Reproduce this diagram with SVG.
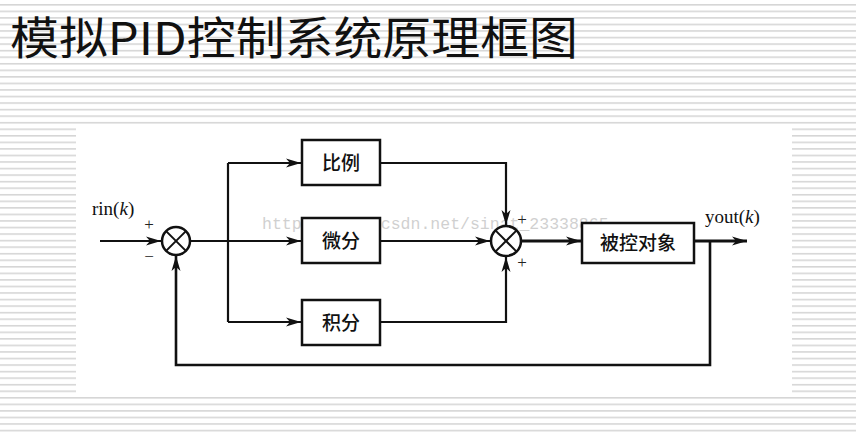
<svg xmlns="http://www.w3.org/2000/svg" width="856" height="432" viewBox="0 0 856 432">
<defs>
<pattern id="stripes" x="0" y="4" width="8" height="6.55" patternUnits="userSpaceOnUse">
<rect x="0" y="0" width="8" height="1.6" fill="#d6d6d6"/>
</pattern>
<marker id="arr" markerUnits="userSpaceOnUse" markerWidth="16" markerHeight="10" refX="15" refY="5" orient="auto">
<path d="M0,0.5 L15,5 L0,9.5 L4,5 z" fill="#111"/>
</marker>
<style>
.ln{fill:none;stroke:#111;stroke-width:2.2}
.bx{fill:#fff;stroke:#111;stroke-width:2.5}
.sum{fill:#fff;stroke:#111;stroke-width:2.5}
.x{stroke:#111;stroke-width:2}
.cn{font-family:"Noto Sans CJK SC","Noto Sans CJK JP",sans-serif;font-size:19px;fill:#111;text-anchor:middle;font-weight:500}
.sg{font-family:"Liberation Serif",serif;font-size:17px;fill:#222;text-anchor:middle}
.lb{font-family:"Liberation Serif",serif;font-size:19px;fill:#111}
</style>
</defs>
<rect width="856" height="432" fill="#fff"/>
<rect width="856" height="432" fill="url(#stripes)"/>
<rect x="76" y="125" width="716" height="272" fill="#fff"/>
<text x="10" y="55" font-family="'Noto Sans CJK SC','Noto Sans CJK JP',sans-serif" font-size="45" fill="#111" textLength="568" lengthAdjust="spacingAndGlyphs">模拟PID控制系统原理框图</text>

<text x="262" y="229" font-family="'Liberation Mono',monospace" font-size="16.5" fill="#999" opacity="0.45">http://blog.csdn.net/sinat_23338865</text>

<g id="connectors">
<path class="ln" d="M100,241 H161" marker-end="url(#arr)"/>
<path class="ln" d="M190,241 H301" marker-end="url(#arr)"/>
<path class="ln" d="M228,163 V322"/>
<path class="ln" d="M228,163 H301" marker-end="url(#arr)"/>
<path class="ln" d="M228,322 H301" marker-end="url(#arr)"/>
<path class="ln" d="M380,163 H506 V225" marker-end="url(#arr)"/>
<path class="ln" d="M380,241 H490" marker-end="url(#arr)"/>
<path class="ln" d="M380,322 H506 V257" marker-end="url(#arr)"/>
<path class="ln" d="M521,241 H581" marker-end="url(#arr)" style="stroke-width:3"/>
<path class="ln" d="M694,241 H747" marker-end="url(#arr)" style="stroke-width:3"/>
<path class="ln" d="M710,241 V365 H176 V256" marker-end="url(#arr)" style="stroke-width:2.6"/>
</g>

<g id="sum1">
<circle class="sum" cx="176" cy="241" r="14"/>
<line class="x" x1="166.1" y1="231.1" x2="185.9" y2="250.9"/>
<line class="x" x1="185.9" y1="231.1" x2="166.1" y2="250.9"/>
<text class="sg" x="149" y="230">+</text>
<text class="sg" x="149" y="262">−</text>
</g>

<g id="sum2">
<circle class="sum" cx="506" cy="241" r="15"/>
<line class="x" x1="495.4" y1="230.4" x2="516.6" y2="251.6"/>
<line class="x" x1="516.6" y1="230.4" x2="495.4" y2="251.6"/>
<text class="sg" x="522" y="225">+</text>
<text class="sg" x="522" y="268">+</text>
</g>

<g id="p">
<rect class="bx" x="302" y="140" width="78" height="45"/>
<text class="cn" x="341" y="169.5">比例</text>
</g>
<g id="d">
<rect class="bx" x="302" y="218" width="78" height="45"/>
<text class="cn" x="341" y="248">微分</text>
</g>
<g id="i">
<rect class="bx" x="302" y="300" width="78" height="45"/>
<text class="cn" x="341" y="329.5">积分</text>
</g>
<g id="plant">
<rect class="bx" x="582" y="223" width="112" height="40"/>
<text class="cn" x="638" y="249.5">被控对象</text>
</g>

<g id="labels">
<text class="lb" x="92" y="215">rin(<tspan font-style="italic">k</tspan>)</text>
<text class="lb" x="705" y="223">yout(<tspan font-style="italic">k</tspan>)</text>
</g>
</svg>
